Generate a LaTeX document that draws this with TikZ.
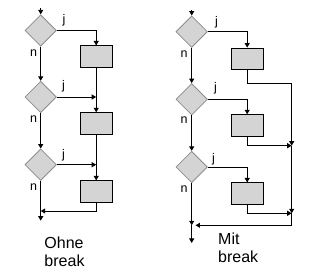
\documentclass[tikz,border=0pt]{standalone}
\usepackage{fontspec}
\setmainfont{Liberation Sans}
\usetikzlibrary{shapes.geometric,arrows.meta}
\definecolor{boxgray}{HTML}{D4D4D4}
\definecolor{dborder}{HTML}{8C8C8C}
\begin{document}
\begin{tikzpicture}[x=1pt,y=-1pt,
  dec/.style={diamond,aspect=1,minimum width=31.5pt,minimum height=31.5pt,inner sep=0pt,fill=boxgray,draw=dborder,line width=0.8pt},
  blk/.style={rectangle,minimum width=32pt,minimum height=21.5pt,inner sep=0pt,fill=boxgray,draw=black,line width=0.9pt},
  lbl/.style={font=\fontsize{12.5}{14}\selectfont,inner sep=0pt},
  captxt/.style={font=\fontsize{16}{17.5}\selectfont,align=left,inner sep=0pt},
  ln/.style={line width=0.9pt,draw=black},
  ar/.style={ln,-{Triangle[width=5pt,length=4.5pt]}}]
\useasboundingbox (0,0) rectangle (325,280);
% ---------- left: Ohne break ----------
\node[dec] (L1) at (40.7,30.5) {};
\node[dec] (L2) at (40.7,97) {};
\node[dec] (L3) at (40.7,164.7) {};
\node[blk] (LB1) at (96.2,56.7) {};
\node[blk] (LB2) at (96.2,123.5) {};
\node[blk] (LB3) at (96.2,191.6) {};
\coordinate (Ltop) at (40.7,8);
\coordinate (Lc1) at (96.2,30.5);
\coordinate (Lm2) at (96.2,97);
\coordinate (Lm3) at (96.2,164.7);
\coordinate (Lc4) at (96.2,211);
\coordinate (Lj4) at (40.7,211);
\coordinate (Lend) at (40.7,220.7);
\draw[ar] (Ltop) -- (L1.north);
\draw[ar] (L1.south) -- (L2.north);
\draw[ar] (L2.south) -- (L3.north);
\draw[ln] (L3.south) -- (Lj4);
\draw[ar] (Lj4) -- (Lend);
\draw[ar] (L1.east) -- (Lc1) -- (LB1.north);
\draw[ar] (LB1.south) -- (LB2.north);
\draw[ar] (L2.east) -- (Lm2);
\draw[ar] (LB2.south) -- (LB3.north);
\draw[ar] (L3.east) -- (Lm3);
\draw[ar] (LB3.south) -- (Lc4) -- (Lj4);
\node[lbl] (Lj1) at (64,20.5) {j};
\node[lbl] (Lj2) at (63.5,86.5) {j};
\node[lbl] (Lj3) at (63.5,155.5) {j};
\node[lbl] (Ln1) at (33.5,53) {n};
\node[lbl] (Ln2) at (33.5,119) {n};
\node[lbl] (Ln3) at (33.5,187) {n};
\node[captxt] (Lcap) at (64.5,252) {Ohne\\break};
% ---------- right: Mit break ----------
\node[dec] (R1) at (191.7,31.7) {};
\node[dec] (R2) at (191.7,99.3) {};
\node[dec] (R3) at (191.7,167) {};
\node[blk] (RB1) at (247.2,58.8) {};
\node[blk] (RB2) at (247.2,125.5) {};
\node[blk] (RB3) at (247.2,193.7) {};
\coordinate (Rtop) at (191.7,10.5);
\coordinate (Rc1) at (247.2,31.7);
\coordinate (Rc2) at (247.2,99.3);
\coordinate (Rc3) at (247.2,167);
\coordinate (Rb1) at (247.2,83.3);
\coordinate (Rk1) at (291.7,83.3);
\coordinate (Rb2) at (247.2,145.7);
\coordinate (Rk2) at (291.7,145.7);
\coordinate (Rb3) at (247.2,213.3);
\coordinate (Rk3) at (291.7,213.3);
\coordinate (Rk4) at (291.7,225.3);
\coordinate (Rl4) at (195.5,225.3);
\coordinate (Rj4) at (191.7,225.3);
\coordinate (Rend) at (191.7,243);
\draw[ar] (Rtop) -- (R1.north);
\draw[ar] (R1.south) -- (R2.north);
\draw[ar] (R2.south) -- (R3.north);
\draw[ar] (R3.south) -- (Rj4);
\draw[ar] (Rj4) -- (Rend);
\draw[ar] (R1.east) -- (Rc1) -- (RB1.north);
\draw[ar] (R2.east) -- (Rc2) -- (RB2.north);
\draw[ar] (R3.east) -- (Rc3) -- (RB3.north);
\draw[ar] (RB1.south) -- (Rb1) -- (Rk1) -- (Rk2);
\draw[ar] (RB2.south) -- (Rb2) -- (Rk2);
\draw[ar] (Rk2) -- (Rk3);
\draw[ar] (RB3.south) -- (Rb3) -- (Rk3);
\draw[ar] (Rk3) -- (Rk4) -- (Rl4);
\node[lbl] (Rj1) at (216.5,22) {j};
\node[lbl] (Rj2) at (215.5,88.5) {j};
\node[lbl] (Rj3) at (213.5,159) {j};
\node[lbl] (Rn1) at (184,54.5) {n};
\node[lbl] (Rn2) at (184,120.5) {n};
\node[lbl] (Rn3) at (184,189.5) {n};
\node[captxt] (Rcap) at (238.2,248) {Mit\\break};
\end{tikzpicture}
\end{document}
